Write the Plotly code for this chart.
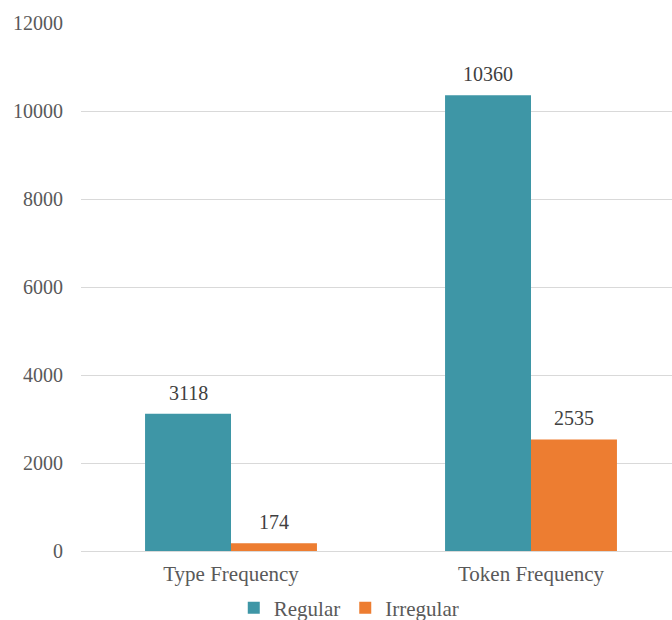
import plotly.graph_objects as go

categories = ["Type Frequency", "Token Frequency"]
regular = [3118, 10360]
irregular = [174, 2535]
y_ticks = [0, 2000, 4000, 6000, 8000, 10000, 12000]
y_tick_labels = ["0", "2000", "4000", "6000", "8000", "10000", "12000"]

FONT = "Liberation Serif, Times New Roman, serif"
BAR_PX = 86  # drawn width of one bar, used to centre the value labels

fig = go.Figure()
fig.add_trace(go.Bar(name="Regular", x=categories, y=regular,
                     marker=dict(color="#3E96A6", line=dict(width=0))))
fig.add_trace(go.Bar(name="Irregular", x=categories, y=irregular,
                     marker=dict(color="#ED7D31", line=dict(width=0))))

# value labels above each bar
for values, shift in ((regular, -BAR_PX / 2), (irregular, BAR_PX / 2)):
    for cat, v in zip(categories, values):
        fig.add_annotation(x=cat, y=v, text=str(v), showarrow=False,
                           xshift=shift, yshift=8, yanchor="bottom",
                           font=dict(family=FONT, size=20, color="#404040"))

fig.update_layout(
    width=672, height=620,
    margin=dict(l=81, r=0, t=23, b=69, autoexpand=False),
    paper_bgcolor="white", plot_bgcolor="white",
    barmode="group", bargap=0.427, bargroupgap=0,
    font=dict(family=FONT, size=20, color="#595959"),
    showlegend=True,
    legend=dict(orientation="h", x=0.519, xref="container", xanchor="center",
                y=0.019, yref="container", yanchor="middle",
                font=dict(family=FONT, size=21, color="#595959"),
                itemwidth=30, tracegroupgap=0),
)
fig.update_xaxes(
    range=[-0.5, 1.47], showgrid=False, showline=False, ticks="",
    ticklabelstandoff=8,
    tickfont=dict(family=FONT, size=21, color="#595959"),
)
fig.update_yaxes(
    range=[0, 12000], tickvals=y_ticks, ticktext=y_tick_labels,
    showgrid=True, gridcolor="#D9D9D9", gridwidth=1.2,
    zeroline=True, zerolinecolor="#D9D9D9", zerolinewidth=1.2,
    showline=False, ticks="", ticklabelstandoff=17,
    tickfont=dict(family=FONT, size=20, color="#595959"),
)

fig.write_html("out.html")
